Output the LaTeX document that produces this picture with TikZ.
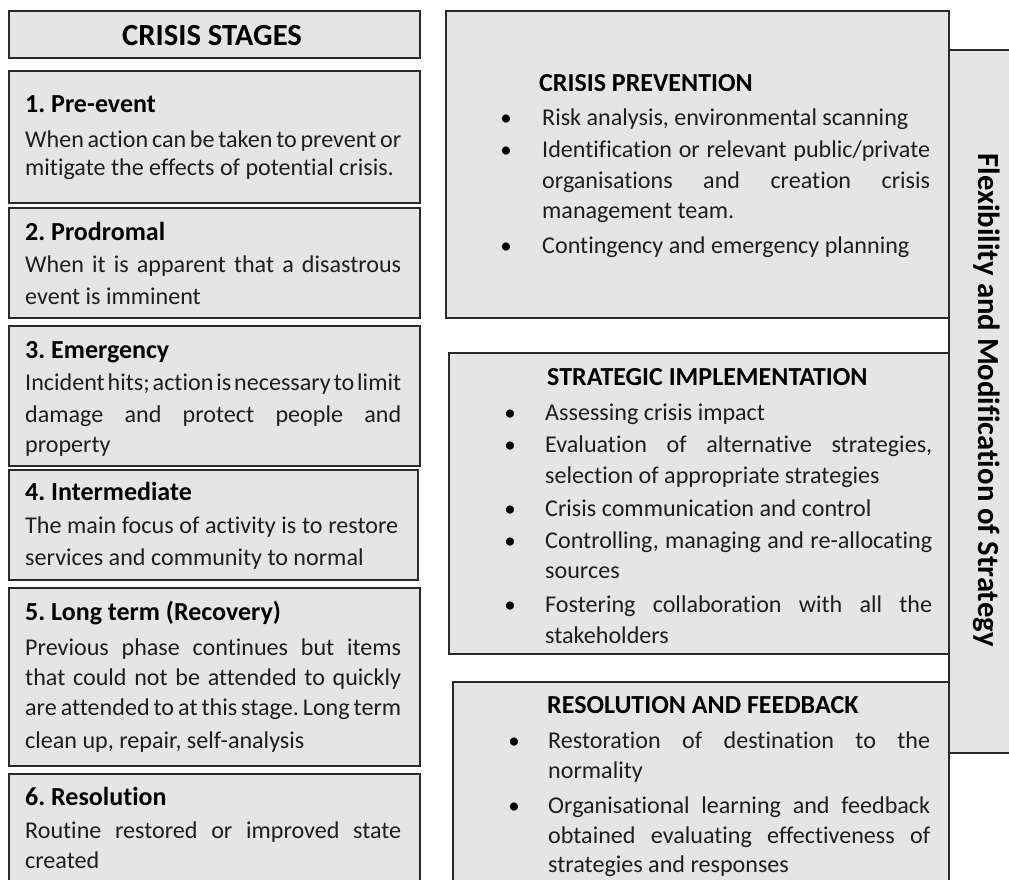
\documentclass[tikz,border=0pt]{standalone}
\usepackage{fontspec}
\setmainfont{Carlito}[Ligatures=NoCommon]
\frenchspacing
\definecolor{boxfill}{HTML}{E5E5E5}
\definecolor{boxline}{HTML}{2A2A2A}
\definecolor{bodytext}{HTML}{1E1E1E}
% justified line of a given width; word spaces may stretch or shrink
\newcommand\jline[2]{\hbox to #1{\spaceskip=0.226em plus 1em minus 0.18em\relax #2}}
\begin{document}
\begin{tikzpicture}[x=1pt,y=-1pt,
  box/.style={draw=boxline, fill=boxfill, line width=1.6pt},
  body/.style={anchor=base west, inner sep=0pt, text=bodytext, font=\fontsize{24.1}{29}\selectfont},
  head/.style={anchor=base west, inner sep=0pt, text=black, font=\fontsize{26}{31}\selectfont\bfseries},
  title/.style={anchor=base, inner sep=0pt, text=black, font=\fontsize{30.7}{36}\selectfont\bfseries},
  dot/.style={anchor=base, inner sep=0pt, text=black, font=\fontsize{23}{28}\selectfont},
]
\useasboundingbox (0,0) rectangle (1009,879);

% ---------- left column: the six crisis stages ----------
\path[box] (9,11) rectangle (420,58);
\node[title] (stages) at (212,45) {CRISIS STAGES};

\path[box] (9,71) rectangle (420,203);
\node[head] (s1h) at (25,112) {1. Pre-event};
\node[body] (s1a) at (25,147) {\jline{376pt}{When action can be taken to prevent or}};
\node[body] (s1b) at (25,175) {mitigate the effects of potential crisis.};

\path[box] (9,208) rectangle (420,318);
\node[head] (s2h) at (25,240) {2. Prodromal};
\node[body] (s2a) at (25,272) {\jline{376pt}{When it is apparent that a disastrous}};
\node[body] (s2b) at (25,304) {event is imminent};

\path[box] (9,326) rectangle (420,466);
\node[head] (s3h) at (25,358) {3. Emergency};
\node[body] (s3a) at (25,390) {\jline{376pt}{Incident hits; action is necessary to limit}};
\node[body] (s3b) at (25,422) {\jline{376pt}{damage and protect people and}};
\node[body] (s3c) at (25,452) {property};

\path[box] (9,470) rectangle (418,580);
\node[head] (s4h) at (25,500) {4. Intermediate};
\node[body] (s4a) at (25,533) {\jline{373pt}{The main focus of activity is to restore}};
\node[body] (s4b) at (25,565) {services and community to normal};

\path[box] (9,588) rectangle (420,766);
\node[head] (s5h) at (25,620) {5. Long term (Recovery)};
\node[body] (s5a) at (25,655) {\jline{376pt}{Previous phase continues but items}};
\node[body] (s5b) at (25,685) {\jline{376pt}{that could not be attended to quickly}};
\node[body] (s5c) at (25,715) {\jline{376pt}{are attended to at this stage. Long term}};
\node[body] (s5d) at (25,748) {clean up, repair, self-analysis};

\path[box] (9,774) rectangle (420,895);
\node[head] (s6h) at (25,805) {6. Resolution};
\node[body] (s6a) at (25,838) {\jline{376pt}{Routine restored or improved state}};
\node[body] (s6b) at (25,868) {created};

% ---------- right column: management actions ----------
\path[box] (949,50) rectangle (1020,753);
\node[title, anchor=center, rotate=-90] (flex) at (987,400) {Flexibility and Modification of Strategy};

\path[box] (446,11) rectangle (949,318);
\node[head] (cp) at (539,91) {CRISIS PREVENTION};
\node[dot] (cp1d) at (506,125) {•};
\node[body] (cp1) at (542,125) {Risk analysis, environmental scanning};
\node[dot] (cp2d) at (506,157) {•};
\node[body] (cp2a) at (542,157) {\jline{388pt}{Identification or relevant public/private}};
\node[body] (cp2b) at (542,188) {\jline{388pt}{organisations and creation crisis}};
\node[body] (cp2c) at (542,218) {management team.};
\node[dot] (cp3d) at (506,253) {•};
\node[body] (cp3) at (542,253) {Contingency and emergency planning};

\path[box] (449,353) rectangle (949,654);
\node[head] (si) at (547,385) {STRATEGIC IMPLEMENTATION};
\node[dot] (si1d) at (510,420) {•};
\node[body] (si1) at (545,420) {Assessing crisis impact};
\node[dot] (si2d) at (510,452) {•};
\node[body] (si2a) at (545,452) {\jline{387pt}{Evaluation of alternative strategies,}};
\node[body] (si2b) at (545,483) {selection of appropriate strategies};
\node[dot] (si3d) at (510,516) {•};
\node[body] (si3) at (545,516) {Crisis communication and control};
\node[dot] (si4d) at (510,548) {•};
\node[body] (si4a) at (545,548) {\jline{387pt}{Controlling, managing and re-allocating}};
\node[body] (si4b) at (545,578) {sources};
\node[dot] (si5d) at (510,612) {•};
\node[body] (si5a) at (545,612) {\jline{387pt}{Fostering collaboration with all the}};
\node[body] (si5b) at (545,643) {stakeholders};

\path[box] (453,682) rectangle (949,895);
\node[head] (rf) at (547,713) {RESOLUTION AND FEEDBACK};
\node[dot] (rf1d) at (514,748) {•};
\node[body] (rf1a) at (548,748) {\jline{382pt}{Restoration of destination to the}};
\node[body] (rf1b) at (548,778) {normality};
\node[dot] (rf2d) at (514,813) {•};
\node[body] (rf2a) at (548,813) {\jline{382pt}{Organisational learning and feedback}};
\node[body] (rf2b) at (548,843) {\jline{382pt}{obtained evaluating effectiveness of}};
\node[body] (rf2c) at (548,872) {strategies and responses};
\end{tikzpicture}
\end{document}
